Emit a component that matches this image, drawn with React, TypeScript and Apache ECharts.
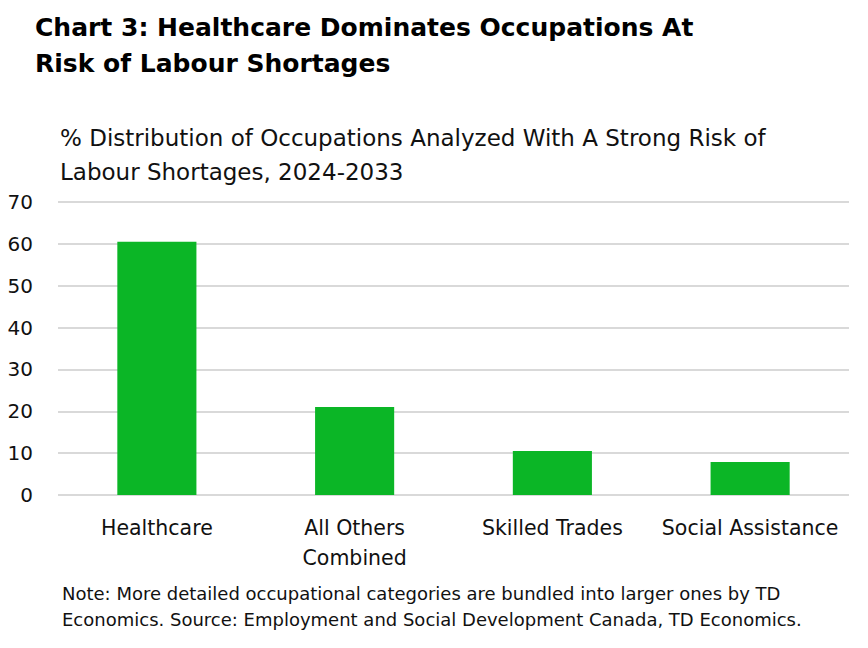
import { useEffect, useRef } from "react";
import * as echarts from "echarts";

const categories = ["Healthcare", "All Others\nCombined", "Skilled Trades", "Social Assistance"];
const shares = [60.5, 21.0, 10.5, 7.9];

const titleLines = "Chart 3: Healthcare Dominates Occupations At\nRisk of Labour Shortages";
const subtitleLines = "% Distribution of Occupations Analyzed With A Strong Risk of\nLabour Shortages, 2024-2033";
const noteLines =
  "Note: More detailed occupational categories are bundled into larger ones by TD\nEconomics. Source: Employment and Social Development Canada, TD Economics.";

const FONT = "'DejaVu Sans', sans-serif";
const BAR_COLOR = "#0BB626";

export default function App() {
  const rootRef = useRef<HTMLDivElement | null>(null);

  useEffect(() => {
    if (!rootRef.current) {
      return;
    }
    const chart = echarts.init(rootRef.current, undefined, { renderer: "svg" });

    chart.setOption({
      animation: false,
      backgroundColor: "#ffffff",
      textStyle: { fontFamily: FONT },
      title: [
        {
          text: titleLines,
          left: 30,
          top: 4,
          textStyle: { fontFamily: FONT, fontSize: 25, fontWeight: "bold", color: "#000", lineHeight: 36 },
        },
        {
          text: subtitleLines,
          left: 55,
          top: 116,
          textStyle: { fontFamily: FONT, fontSize: 23, fontWeight: "normal", color: "#111", lineHeight: 34 },
        },
        {
          text: noteLines,
          left: 57,
          top: 575,
          textStyle: { fontFamily: FONT, fontSize: 18, fontWeight: "normal", color: "#111", lineHeight: 26 },
        },
      ],
      grid: { left: 58, right: 19, top: 202, bottom: 153, containLabel: false },
      xAxis: {
        type: "category",
        data: categories,
        axisLine: { show: false },
        axisTick: { show: false },
        axisLabel: { color: "#111", fontSize: 20.5, lineHeight: 30, margin: 18, fontFamily: FONT, interval: 0 },
      },
      yAxis: {
        type: "value",
        min: 0,
        max: 70,
        interval: 10,
        axisLine: { show: false },
        axisTick: { show: false },
        axisLabel: { color: "#111", fontSize: 20, margin: 25, fontFamily: FONT },
        splitLine: { lineStyle: { color: "#d9d9d9", width: 2 } },
      },
      series: [
        {
          type: "bar",
          data: shares,
          barWidth: "40%",
          itemStyle: { color: BAR_COLOR },
          z: 3,
        },
      ],
    });

    return () => {
      chart.dispose();
    };
  }, []);

  return <div ref={rootRef} style={{ position: "fixed", left: 0, top: 0, width: 868, height: 648 }} />;
}
